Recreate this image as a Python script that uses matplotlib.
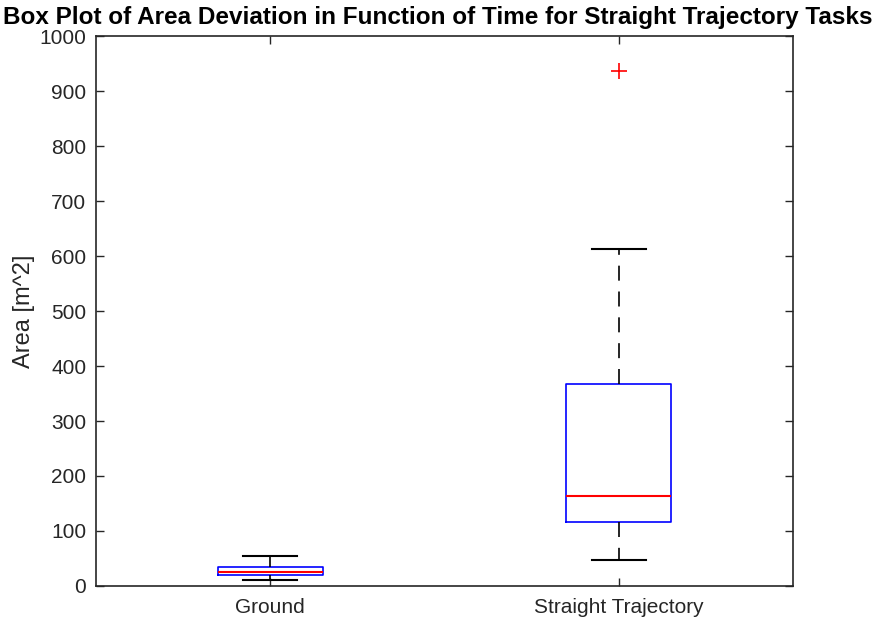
import matplotlib
matplotlib.use("Agg")
import matplotlib.pyplot as plt

categories = ["Ground", "Straight Trajectory"]
q1 = [20, 116]
median = [25, 164]
q3 = [35, 367]
whislo = [11.5, 47]
whishi = [55, 613]
fliers = [[], [936]]
yticks = list(range(0, 1001, 100))

plt.rcParams['font.family'] = ['Liberation Sans', 'DejaVu Sans']

fig = plt.figure(figsize=(8.78, 6.24), dpi=100)
ax = fig.add_axes([0.1093, 0.0609, 0.9032 - 0.1093, 0.9423 - 0.0609])

stats = []
for i, c in enumerate(categories):
    stats.append(dict(label=c, q1=q1[i], med=median[i], q3=q3[i],
                      whislo=whislo[i], whishi=whishi[i], fliers=fliers[i]))

ax.bxp(stats, positions=[1, 2], widths=0.3, showfliers=True,
       boxprops=dict(color='blue', linewidth=1.2),
       medianprops=dict(color='red', linewidth=1.5),
       whiskerprops=dict(color='black', linewidth=1.2, linestyle=(0, (9, 6.5))),
       capprops=dict(color='black', linewidth=1.5),
       flierprops=dict(marker='+', markeredgecolor='red', markersize=11, markeredgewidth=1.2),
       capwidths=0.155)

ax.set_xlim(0.5, 2.5)
ax.set_ylim(0, 1000)
ax.set_yticks(yticks)
ax.set_xticks([1, 2])
ax.set_xticklabels(categories)
ax.tick_params(direction='in', top=True, right=True, labelsize=15, length=6, width=1, colors='#262626')
ax.tick_params(axis='y', pad=7)
ax.tick_params(axis='x', pad=9)
for s in ax.spines.values():
    s.set_linewidth(1.2)
    s.set_color('#262626')
ax.set_ylabel("Area [m^2]", fontsize=17, color='#262626', labelpad=3)
ax.set_title("Box Plot of Area Deviation in Function of Time for Straight Trajectory Tasks",
             fontsize=17.5, fontweight='bold', pad=9, x=0.4905)

fig.savefig("out.png", dpi=100)
